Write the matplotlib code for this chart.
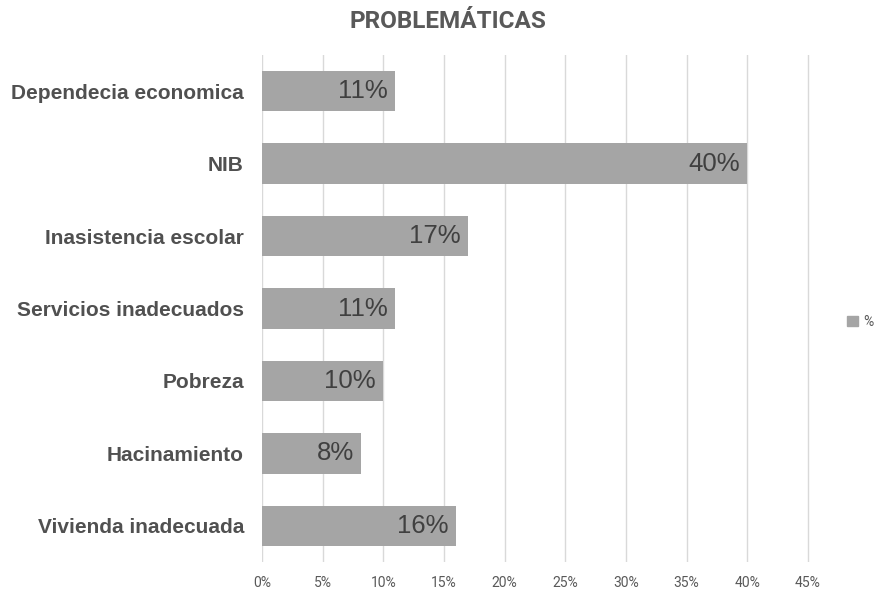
import matplotlib.pyplot as plt
from matplotlib import font_manager
from matplotlib.patches import Patch

categories = [
    "Dependecia economica",
    "NIB",
    "Inasistencia escolar",
    "Servicios inadecuados",
    "Pobreza",
    "Hacinamiento",
    "Vivienda inadecuada",
]
values = [0.11, 0.40, 0.17, 0.11, 0.10, 0.082, 0.16]
value_labels = ["11%", "40%", "17%", "11%", "10%", "8%", "16%"]
ticks = [0.00, 0.05, 0.10, 0.15, 0.20, 0.25, 0.30, 0.35, 0.40, 0.45]
tick_labels = ["0%", "5%", "10%", "15%", "20%", "25%", "30%", "35%", "40%", "45%"]

bar_color = "#a5a5a5"

names = {f.name for f in font_manager.fontManager.ttflist}
narrow = "Liberation Sans Narrow" if "Liberation Sans Narrow" in names else "Roboto"

fig = plt.figure(figsize=(8.76, 5.97), dpi=100)
px = (808 - 262) / 0.45
ax = fig.add_axes([262 / 876, 1 - 562 / 597, 0.455 * px / 876, (562 - 55) / 597])

y = list(range(len(categories)))
ax.barh(y, values, height=0.56, color=bar_color, zorder=2)
ax.set_ylim(len(categories) - 0.5, -0.5)
ax.set_xlim(0, 0.455)

for yi, v, lab in zip(y, values, value_labels):
    ax.text(v - 0.006, yi, lab, ha="right", va="center",
            fontsize=18.5, color="#404040", family="Liberation Sans", zorder=3)

ax.set_yticks(y)
ax.set_yticklabels(categories, fontsize=15, fontweight="bold",
                   color="#505050", family="Liberation Sans")
ax.set_xticks(ticks)
ax.set_xticklabels(tick_labels, fontsize=10, color="#595959", family=narrow)
ax.tick_params(axis="y", length=0, pad=13)
ax.tick_params(axis="x", length=0, pad=10)

ax.grid(axis="x", color="#d9d9d9", linewidth=1, zorder=0)
for s in ax.spines.values():
    s.set_visible(False)

fig.text(448 / 876, 1 - 21 / 597, "PROBLEMÁTICAS",
         ha="center", va="center",
         fontsize=17.5, fontweight="bold", color="#595959", family=narrow)

fig.legend(handles=[Patch(color=bar_color, label="%")], loc="center left",
           bbox_to_anchor=(834 / 876, 1 - 322 / 597), frameon=False,
           handlelength=0.8, handleheight=0.8, handletextpad=0.4,
           labelcolor="#595959", prop={"family": narrow, "size": 10})

fig.savefig("out.png", dpi=100)
